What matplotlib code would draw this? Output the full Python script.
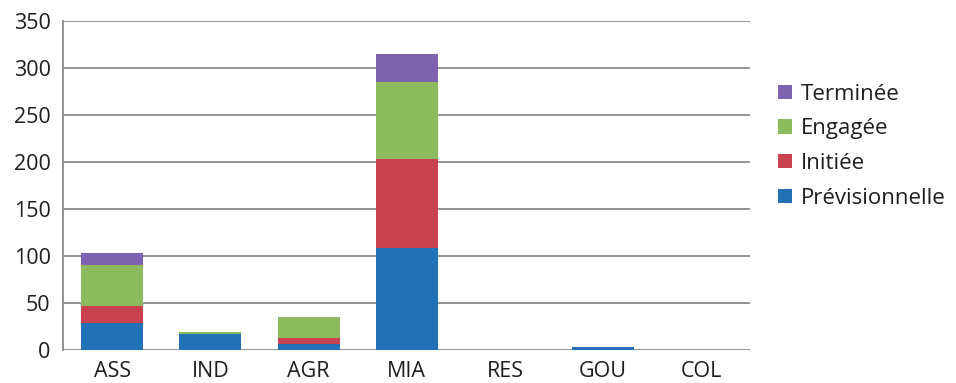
import numpy as np
import matplotlib.pyplot as plt

categories = ['ASS', 'IND', 'AGR', 'MIA', 'RES', 'GOU', 'COL']
previsionnelle = [29, 17, 6, 109, 0, 3, 0]
initiee = [18, 0, 7, 94, 0, 0, 0]
engagee = [44, 2, 22, 82, 0, 0, 0]
terminee = [12, 0, 0, 30, 0, 0, 0]

series = [
    ('Prévisionnelle', previsionnelle, '#2270b5'),
    ('Initiée', initiee, '#c8424f'),
    ('Engagée', engagee, '#8dba5c'),
    ('Terminée', terminee, '#7d62b0'),
]

plt.rcParams['font.family'] = ['Open Sans', 'DejaVu Sans']

fig = plt.figure(figsize=(9.56, 3.83), dpi=100)
ax = fig.add_axes([0.066, 0.086, 0.719, 0.859])

x = np.arange(len(categories))
bottom = np.zeros(len(categories))
for name, vals, color in series:
    vals = np.array(vals, dtype=float)
    ax.bar(x, vals, width=0.63, bottom=bottom, color=color, label=name, zorder=3)
    bottom += vals

ax.set_xlim(-0.5, len(categories) - 0.5)
ax.set_ylim(0, 350)
ax.set_yticks(np.arange(0, 351, 50))
ax.set_xticks(x)
ax.set_xticklabels(categories)
ax.yaxis.grid(True, color='#8a8a8a', linewidth=1.3, zorder=0)
ax.tick_params(axis='both', length=0, labelsize=15.5, colors='#1e1e1e')
ax.tick_params(axis='y', pad=9)
ax.tick_params(axis='x', pad=8)
for side in ['top', 'right', 'bottom']:
    ax.spines[side].set_visible(False)
ax.spines['left'].set_color('#8a8a8a')
ax.spines['left'].set_linewidth(1.3)

handles, labels = ax.get_legend_handles_labels()
fig.legend(handles[::-1], labels[::-1], loc='upper left',
           bbox_to_anchor=(0.805, 0.805), frameon=False, fontsize=16,
           handlelength=0.6, handleheight=0.6, handletextpad=0.4,
           labelspacing=0.62, borderaxespad=0, labelcolor='#1e1e1e')

fig.savefig('out.png', dpi=100)
